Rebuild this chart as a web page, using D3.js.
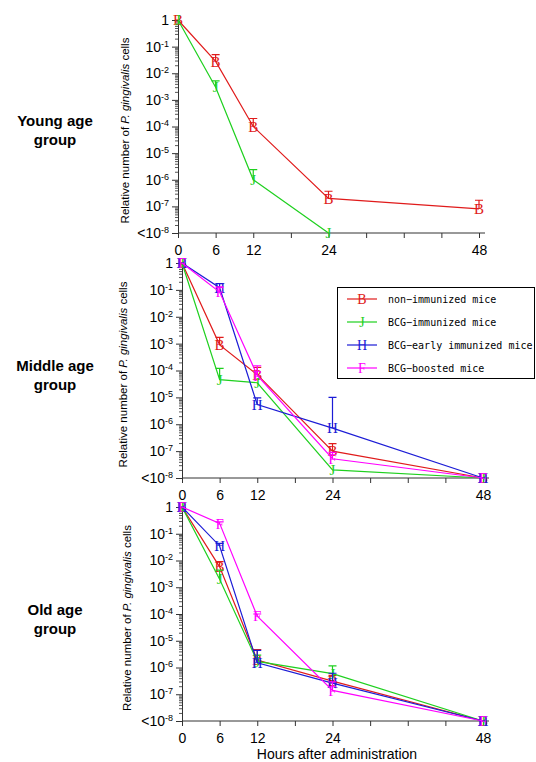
<!DOCTYPE html>
<html>
<head>
<meta charset="utf-8">
<script src="https://cdn.jsdelivr.net/npm/d3@7"></script>
<style>
  body { margin: 0; background: #fff; }
  svg { display: block; font-family: "Liberation Sans", Arial, sans-serif; }
</style>
</head>
<body>
<script>
// hours after administration
var hours = [0, 6, 12, 24, 48];
var xTickValues = [0, 6, 12, 18, 24, 30, 36, 42, 48];
var xTickLabels = [0, 6, 12, 24, 48];
var yExponents = [0, -1, -2, -3, -4, -5, -6, -7, -8];

var seriesNames = ["non−immunized mice", "BCG−immunized mice", "BCG−early immunized mice", "BCG−boosted mice"];
var seriesLetters = ["B", "J", "H", "F"];
var seriesColors = ["#e01b1b", "#1fd01f", "#1c1cd6", "#ff00ff"];
var groupNames = [["Young age", "group"], ["Middle age", "group"], ["Old age", "group"]];

// Young age group (mean, upper error)
var youngNon = [1, 0.028, 1e-4, 2e-7, 8e-8];
var youngNonErr = [null, 0.05, 2e-4, 3.7e-7, 1.7e-7];
var youngBcg = [1, 3e-3, 1e-6, 1e-8, null];
var youngBcgErr = [null, 5.2e-3, 2.4e-6, null, null];

// Middle age group
var midNon = [1, 9e-4, 7e-5, 1e-7, 1e-8];
var midNonErr = [null, 1.7e-3, 1.3e-4, 1.9e-7, null];
var midBcg = [1, 4.6e-5, 3.5e-5, 2e-8, 1e-8];
var midBcgErr = [null, 1.2e-4, null, null, null];
var midEarly = [1, 0.12, 5.4e-6, 7.2e-7, 1e-8];
var midEarlyErr = [null, 0.17, 9.5e-6, 1e-5, null];
var midBoost = [1, 0.083, 6.6e-5, 5.2e-8, 1e-8];
var midBoostErr = [null, 0.13, 1.5e-4, 9e-8, null];

// Old age group
var oldNon = [1, 5.8e-3, 1.9e-6, 3.1e-7, 1e-8];
var oldNonErr = [null, 9e-3, 4.7e-6, 5.1e-7, null];
var oldBcg = [1, 2e-3, 1.7e-6, 5.9e-7, 1e-8];
var oldBcgErr = [null, 4.4e-3, 2.9e-6, 1.15e-6, null];
var oldEarly = [1, 0.035, 1.5e-6, 2.6e-7, 1e-8];
var oldEarlyErr = [null, 0.044, 4.4e-6, 6.1e-7, null];
var oldBoost = [1, 0.245, 8.3e-5, 1.4e-7, 1e-8];
var oldBoostErr = [null, 0.28, 1e-4, 2.9e-7, null];

var panels = [
  { x0: 178, top: 20, bottom: 233, labelX: 125,
    series: [[0, youngNon, youngNonErr], [1, youngBcg, youngBcgErr]] },
  { x0: 182, top: 263, bottom: 478, labelX: 123,
    series: [[0, midNon, midNonErr], [1, midBcg, midBcgErr], [2, midEarly, midEarlyErr], [3, midBoost, midBoostErr]] },
  { x0: 182, top: 507, bottom: 721, labelX: 127,
    series: [[0, oldNon, oldNonErr], [1, oldBcg, oldBcgErr], [2, oldEarly, oldEarlyErr], [3, oldBoost, oldBoostErr]] }
];
var groupLabelY = [121, 366, 610];

var svg = d3.select("body").append("svg").attr("width", 536).attr("height", 762);

// minor log ticks
var minorTicks = [];
for (var e = -8; e < 0; e++) {
  for (var m = 2; m <= 9; m++) minorTicks.push(m * Math.pow(10, e));
}

panels.forEach(function(p, pi) {
  var x = d3.scaleLinear().domain([0, 48]).range([p.x0, p.x0 + 301]);
  var y = d3.scaleLog().domain([1e-8, 1]).range([p.bottom, p.top]);
  var g = svg.append("g");

  // x axis
  var xAxis = d3.axisBottom(x).tickValues(xTickValues).tickSize(5).tickPadding(7).tickSizeOuter(0)
    .tickFormat(function(d) { return xTickLabels.indexOf(d) >= 0 ? d : ""; });
  var xg = g.append("g").attr("transform", "translate(0," + p.bottom + ")").call(xAxis);
  xg.select(".domain").attr("d", "M" + (p.x0) + ",0H" + (p.x0 + 307));
  xg.selectAll("text").attr("font-size", 14).attr("fill", "#000");
  xg.selectAll("line, path").attr("stroke", "#333");

  // y axis minor ticks
  var ymg = g.append("g").attr("transform", "translate(" + p.x0 + ",0)")
    .call(d3.axisLeft(y).tickValues(minorTicks).tickSize(3).tickFormat(""));
  ymg.select(".domain").remove();
  ymg.selectAll("line").attr("stroke", "#555");

  // y axis major
  var yg = g.append("g").attr("transform", "translate(" + p.x0 + ",0)")
    .call(d3.axisLeft(y).tickValues(yExponents.map(function(k) { return Math.pow(10, k); }))
      .tickSize(6).tickPadding(3).tickSizeOuter(0).tickFormat(""));
  yg.selectAll("line, path").attr("stroke", "#333");
  yg.selectAll(".tick text").each(function(d) {
    var k = Math.round(Math.log10(d));
    var t = d3.select(this).attr("font-size", 14).attr("fill", "#000");
    if (k === 0) { t.text("1"); return; }
    t.append("tspan").text((k === -8 ? "<" : "") + "10");
    t.append("tspan").attr("font-size", 9).attr("dy", -5).text(String(k));
  });

  // y title
  var yt = g.append("text")
    .attr("transform", "translate(" + p.labelX + "," + ((p.top + p.bottom) / 2 + 4) + ") rotate(-90)")
    .attr("text-anchor", "middle").attr("font-size", 11.5).attr("dy", "0.35em");
  yt.append("tspan").text("Relative number of ");
  yt.append("tspan").attr("font-style", "italic").text("P. gingivalis");
  yt.append("tspan").text(" cells");

  // group name
  groupNames[pi].forEach(function(s, li) {
    svg.append("text").attr("x", 55).attr("y", groupLabelY[pi] + li * 19).attr("text-anchor", "middle")
      .attr("dy", "0.35em").attr("font-size", 15).attr("font-weight", "bold").text(s);
  });

  // series
  p.series.forEach(function(s) {
    var idx = s[0], vals = s[1], errs = s[2];
    var pts = hours.map(function(h, i) { return { h: h, v: vals[i], e: errs[i] }; })
      .filter(function(d) { return d.v != null; });
    var line = d3.line().x(function(d) { return x(d.h); }).y(function(d) { return y(d.v); });
    g.append("path").datum(pts).attr("d", line).attr("fill", "none")
      .attr("stroke", seriesColors[idx]).attr("stroke-width", 1.2);
    var eb = pts.filter(function(d) { return d.e != null; });
    g.selectAll(null).data(eb).enter().append("path")
      .attr("d", function(d) {
        return "M" + x(d.h) + "," + y(d.v) + "V" + y(d.e) + "M" + (x(d.h) - 4) + "," + y(d.e) + "H" + (x(d.h) + 4);
      })
      .attr("stroke", seriesColors[idx]).attr("stroke-width", 1.2).attr("fill", "none");
    g.selectAll(null).data(pts).enter().append("text")
      .attr("x", function(d) { return x(d.h); })
      .attr("y", function(d) { return y(d.v); })
      .attr("dy", "0.35em").attr("text-anchor", "middle")
      .attr("font-family", "Liberation Serif, serif").attr("font-size", 15)
      .attr("fill", seriesColors[idx]).text(seriesLetters[idx]);
  });
});

// legend
var lg = svg.append("g");
lg.append("rect").attr("x", 337.5).attr("y", 287.5).attr("width", 197).attr("height", 91)
  .attr("fill", "#fff").attr("stroke", "#000");
seriesNames.forEach(function(name, i) {
  var yy = 299 + i * 23;
  lg.append("line").attr("x1", 347).attr("x2", 377).attr("y1", yy).attr("y2", yy)
    .attr("stroke", seriesColors[i]).attr("stroke-width", 1.2);
  lg.append("text").attr("x", 362).attr("y", yy).attr("dy", "0.35em").attr("text-anchor", "middle")
    .attr("font-family", "Liberation Serif, serif").attr("font-size", 14)
    .attr("fill", seriesColors[i]).text(seriesLetters[i]);
  lg.append("text").attr("x", 388).attr("y", yy).attr("dy", "0.35em")
    .attr("font-family", "DejaVu Sans Mono, monospace").attr("font-size", 10).text(name);
});

// x title
svg.append("text").attr("x", 337).attr("y", 754).attr("dy", "0.35em").attr("text-anchor", "middle")
  .attr("font-size", 14).text("Hours after administration");
</script>
</body>
</html>
